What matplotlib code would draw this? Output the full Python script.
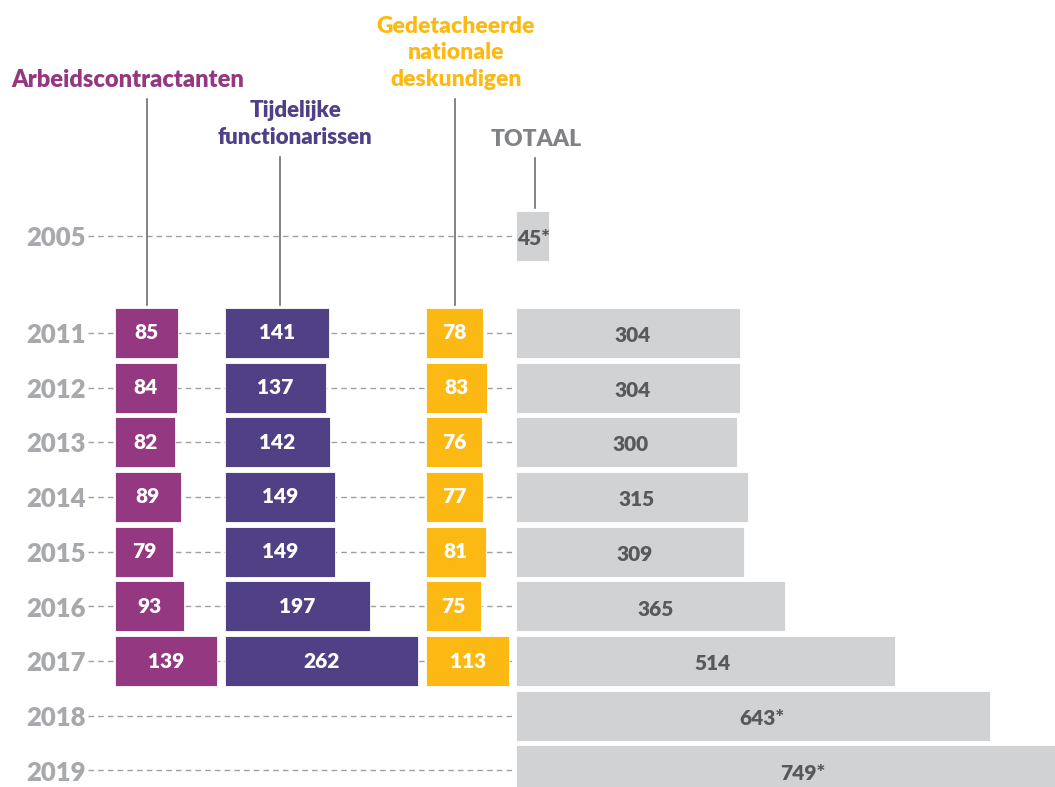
import numpy as np
import matplotlib.pyplot as plt

# data
years = ['2005', '2011', '2012', '2013', '2014', '2015', '2016', '2017', '2018', '2019']
arbeids = [None, 85, 84, 82, 89, 79, 93, 139, None, None]
tijdelijk = [None, 141, 137, 142, 149, 149, 197, 262, None, None]
gedetacheerd = [None, 78, 83, 76, 77, 81, 75, 113, None, None]
totaal = [45, 304, 304, 300, 315, 309, 365, 514, 643, 749]
totaal_labels = ['45*', '304', '304', '300', '315', '309', '365', '514', '643*', '749*']

headers = ['Arbeidscontractanten', 'Tijdelijke\nfunctionarissen',
           'Gedetacheerde\nnationale\ndeskundigen', 'TOTAAL']

# colours
c_arb = '#953882'
c_tij = '#504086'
c_ged = '#fdb913'
c_tot = '#d1d2d4'
c_year = '#a7a9ac'
c_totxt = '#58595b'

plt.rcParams['font.family'] = ['Lato', 'DejaVu Sans']

W, H = 1055, 787
PX = 0.737          # pixels per unit
ROW = 54.7          # pixels per row
Y0 = 236            # pixel y of the 2005 row

fig = plt.figure(figsize=(W / 100, H / 100), dpi=100)
ax = fig.add_axes([0, 0, 1, 1])
ax.set_xlim(0, W / PX)
ax.set_ylim((H - Y0) / ROW, -Y0 / ROW)
ax.axis('off')


def px(x, y):
    return x / PX, (y - Y0) / ROW


# row positions (gap between 2005 and 2011)
ypos = np.array([0, 1.77] + [1.77 + i for i in range(1, 9)])
bh = 50 / ROW

# offsets of the columns (in units)
x_arb = 115 / PX
x_tij = 225 / PX
x_ged = 426 / PX
x_tot = 516 / PX

# dashed guide lines and year labels
for yr, y in zip(years, ypos):
    ax.plot([88 / PX, x_tot], [y, y], color='#a0a0a0', lw=1, ls=(0, (4, 3)), zorder=1)
    ax.text(86 / PX, y + 0.04, yr, ha='right', va='center', color=c_year,
            fontsize=18.5, fontweight='heavy')

for vals, x0, col in [(arbeids, x_arb, c_arb), (tijdelijk, x_tij, c_tij),
                      (gedetacheerd, x_ged, c_ged)]:
    for v, y in zip(vals, ypos):
        if v is None:
            continue
        ax.barh(y, v, left=x0, height=bh, color=col, edgecolor='white',
                lw=0.6, zorder=2)
        ax.text(x0 + v / 2, y, str(v), ha='center', va='center', color='white',
                fontsize=15, fontweight='heavy', zorder=3)

for v, lab, y in zip(totaal, totaal_labels, ypos):
    ax.barh(y, v, left=x_tot, height=bh, color=c_tot, edgecolor='white',
            lw=0.6, zorder=2)
    xt = x_tot + v * 0.52 if v > 100 else x_tot + v / 2 + 2
    ax.text(xt, y + 0.05, lab, ha='center', va='center', color=c_totxt,
            fontsize=15, fontweight='heavy', zorder=3)

# headers with connector lines
hdr_specs = [
    (headers[0], c_arb, 128, 80, 147, 99, 17),
    (headers[1], c_tij, 295, 124, 280, 157, 16),
    (headers[2], c_ged, 456, 53, 455, 99, 16.5),
    (headers[3], '#808285', 536, 140, 535, 158, 16.5),
]
for txt, col, tx, ty, lx, ly, fs in hdr_specs:
    ax.text(*px(tx, ty), txt, ha='center', va='center', color=col,
            fontsize=fs, fontweight='heavy', linespacing=1.32)
    y_end = 208 if txt == 'TOTAAL' else 305
    ax.plot([lx / PX, lx / PX], [px(0, ly)[1], px(0, y_end)[1]],
            color='#6d6e71', lw=1.2, zorder=1)

fig.savefig('out.png', dpi=100)
